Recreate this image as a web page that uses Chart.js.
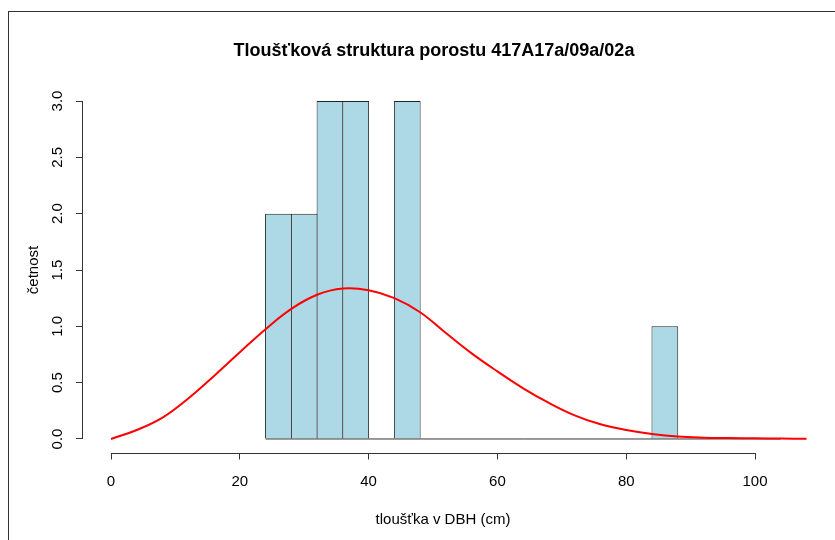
<!DOCTYPE html>
<html>
<head>
<meta charset="utf-8">
<script src="https://cdn.jsdelivr.net/npm/chart.js@4.4.1/dist/chart.umd.min.js"></script>
<style>
  html, body { margin: 0; padding: 0; background: #fff; }
  #wrap { width: 835px; height: 540px; }
</style>
</head>
<body>
<div id="wrap"><canvas id="histChart" width="835" height="540"></canvas></div>
<script>
// --- data ---
const xTicks = [0, 20, 40, 60, 80, 100];
const yTicks = [0, 0.5, 1, 1.5, 2, 2.5, 3];

const binWidth = 4;
const binStarts = [24, 28, 32, 36, 40, 44, 48, 52, 56, 60, 64, 68, 72, 76, 80, 84, 88, 92, 96, 100];
const binCounts = [2, 2, 3, 3, 0, 3, 0, 0, 0, 0, 0, 0, 0, 0, 0, 1, 0, 0, 0, 0];

// fitted density curve (scaled to counts)
const curveX = [0, 4, 8, 12, 16, 20, 24, 28, 32, 36, 40, 44, 48, 52, 56, 60, 64, 68, 72, 76, 80, 84, 88, 92, 96, 100, 104, 108];
const curveY = [0, 0.08, 0.19, 0.36, 0.56, 0.77, 0.975, 1.155, 1.28, 1.335, 1.32, 1.25, 1.125, 0.94, 0.76, 0.6, 0.45, 0.32, 0.21, 0.13, 0.08, 0.045, 0.022, 0.012, 0.008, 0.006, 0.004, 0.001];

const TITLE = "Tloušťková struktura porostu 417A17a/09a/02a";
const X_TITLE = "tloušťka v DBH (cm)";
const Y_TITLE = "četnost";

Chart.defaults.font.family = '"Liberation Sans", Arial, sans-serif';
Chart.defaults.color = "#000";

// R style axis lines: only from first to last tick, plus the outer frame
const rAxes = {
  id: "rAxes",
  beforeDraw(chart) {
    const ctx = chart.ctx;
    ctx.save();
    ctx.strokeStyle = "#333";
    ctx.lineWidth = 1;
    ctx.strokeRect(8.5, 11.5, 1000, 1000);
    ctx.restore();
  },
  afterDraw(chart) {
    const { ctx, scales } = chart;
    const x = scales.x, y = scales.y;
    ctx.save();
    ctx.strokeStyle = "#333";
    ctx.lineWidth = 1;
    ctx.beginPath();
    const xy = Math.round(x.top) + 0.5;
    ctx.moveTo(x.getPixelForValue(xTicks[0]), xy);
    ctx.lineTo(x.getPixelForValue(xTicks[xTicks.length - 1]), xy);
    const yx = Math.round(y.right) - 0.5;
    ctx.moveTo(yx, y.getPixelForValue(yTicks[0]));
    ctx.lineTo(yx, y.getPixelForValue(yTicks[yTicks.length - 1]));
    ctx.stroke();
    ctx.restore();
  }
};

const barData = binStarts.map((s, i) => ({ x: s + binWidth / 2, y: binCounts[i] }));
const curveData = curveX.map((v, i) => ({ x: v, y: curveY[i] }));
const baseData = [
  { x: binStarts[0], y: 0 },
  { x: binStarts[binStarts.length - 1] + binWidth, y: 0 }
];

const ctx = document.getElementById("histChart").getContext("2d");
new Chart(ctx, {
  type: "bar",
  data: {
    datasets: [
      {
        type: "line",
        data: curveData,
        borderColor: "#ff0000",
        borderWidth: 2,
        pointRadius: 0,
        tension: 0.4,
        clip: false,
        order: 0
      },
      {
        type: "line",
        data: baseData,
        borderColor: "#333",
        borderWidth: 1,
        pointRadius: 0,
        order: 1
      },
      {
        type: "bar",
        data: barData,
        backgroundColor: "#add8e6",
        borderColor: "#222",
        borderWidth: 1,
        barPercentage: 1.039,
        categoryPercentage: 1,
        order: 2
      }
    ]
  },
  options: {
    responsive: false,
    animation: false,
    devicePixelRatio: 1,
    layout: { padding: { left: 33, right: 0, top: 0, bottom: 0 } },
    plugins: {
      legend: { display: false },
      tooltip: { enabled: false },
      title: {
        display: true,
        text: TITLE,
        font: { size: 18, weight: "bold", lineHeight: 1.2 },
        color: "#000",
        padding: { top: 40.2, bottom: 25.7 }
      }
    },
    scales: {
      x: {
        type: "linear",
        min: -4.35,
        max: 107.45,
        offset: false,
        grid: { display: true, drawOnChartArea: false, drawTicks: true, tickLength: 7, color: "#333", offset: false },
        border: { display: false },
        afterBuildTicks: s => { s.ticks = xTicks.map(v => ({ value: v })); },
        afterFit: s => { s.height = 87.5; },
        ticks: {
          font: { size: 15 },
          padding: 13,
          maxRotation: 0,
          callback: v => String(v)
        },
        title: {
          display: true,
          text: X_TITLE,
          font: { size: 15, lineHeight: 1.2 },
          padding: { top: 0, bottom: 11 }
        }
      },
      y: {
        type: "linear",
        position: "left",
        min: -0.12,
        max: 3.12,
        grid: { display: true, drawOnChartArea: false, drawTicks: true, tickLength: 7, color: "#333" },
        border: { display: false },
        afterBuildTicks: s => { s.ticks = yTicks.map(v => ({ value: v })); },
        afterFit: s => { s.width = 50; },
        ticks: {
          font: { size: 15 },
          padding: 8,
          minRotation: 90,
          maxRotation: 90,
          crossAlign: "center",
          callback: v => v.toFixed(1)
        },
        title: {
          display: true,
          text: Y_TITLE,
          font: { size: 15, lineHeight: 1.2 },
          padding: { top: -8, bottom: 0 }
        }
      },
      y2: {
        type: "linear",
        position: "right",
        display: true,
        grid: { display: false },
        border: { display: false },
        ticks: { display: false },
        afterFit: s => { s.width = 32; }
      }
    }
  },
  plugins: [rAxes]
});
</script>
</body>
</html>
